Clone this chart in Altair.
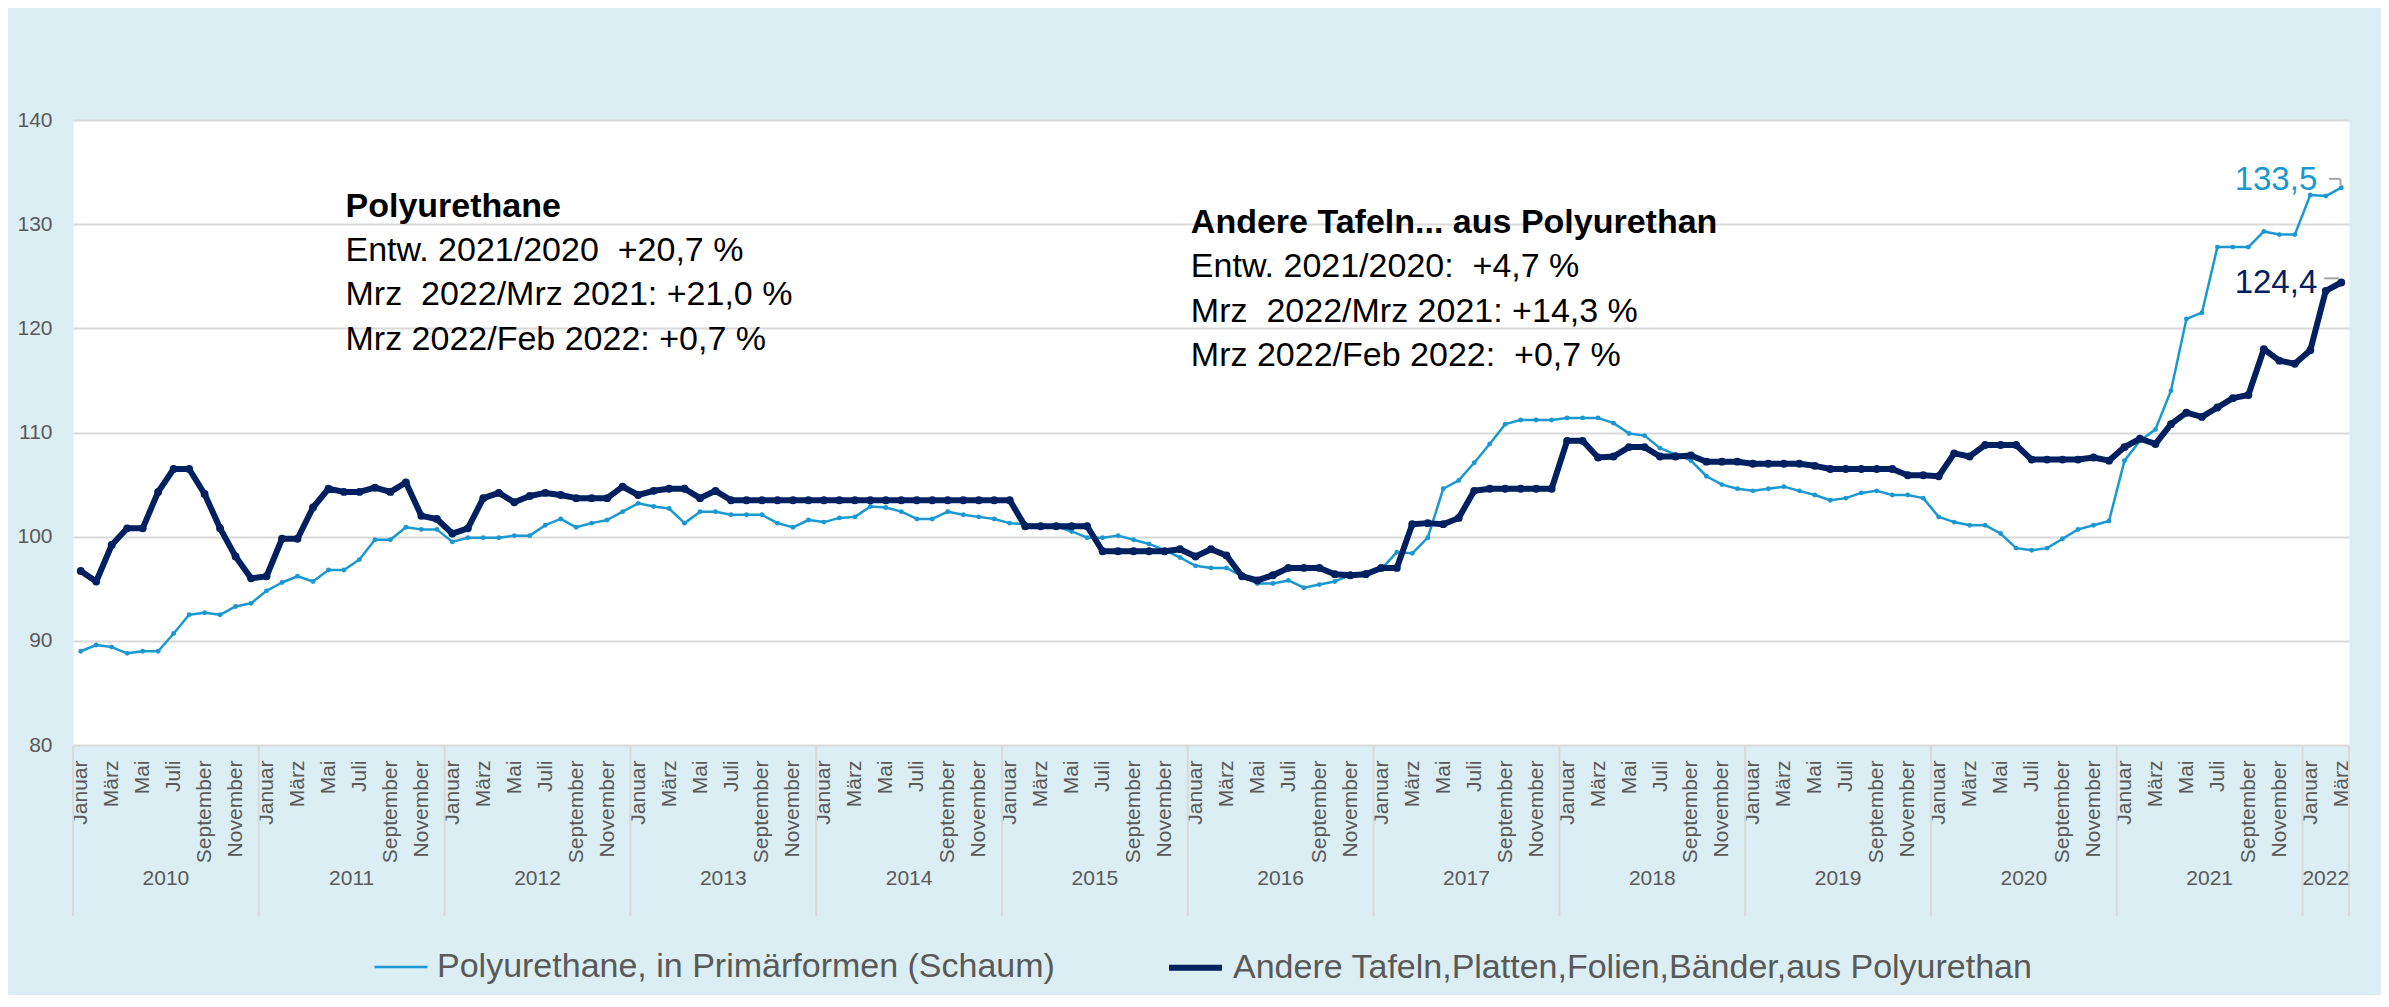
import altair as alt
import pandas as pd

# ---------------- data ----------------
month_names = ["Januar", "Februar", "März", "April", "Mai", "Juni", "Juli",
               "August", "September", "Oktober", "November", "Dezember"]
years = ["2010", "2011", "2012", "2013", "2014", "2015", "2016",
         "2017", "2018", "2019", "2020", "2021", "2022"]
series_names = ["Polyurethane, in Primärformen (Schaum)",
                "Andere Tafeln,Platten,Folien,Bänder,aus Polyurethan"]
series_colors = ["#1B98D1", "#002060"]

# Polyurethane, in Primärformen (Schaum), Jan 2010 - Mar 2022
schaum = [
    89.0, 89.6, 89.4, 88.8, 89.0, 89.0, 90.7, 92.5, 92.7, 92.5, 93.3, 93.6,
    94.8, 95.6, 96.2, 95.7, 96.8, 96.8, 97.8, 99.7, 99.7, 100.9, 100.7, 100.7,
    99.5, 99.9, 99.9, 99.9, 100.1, 100.1, 101.1, 101.7, 100.9, 101.3, 101.6, 102.4,
    103.2, 102.9, 102.7, 101.3, 102.4, 102.4, 102.1, 102.1, 102.1, 101.3, 100.9, 101.6,
    101.4, 101.8, 101.9, 102.9, 102.8, 102.4, 101.7, 101.7, 102.4, 102.1, 101.9, 101.7,
    101.3, 101.2, 101.1, 101.0, 100.5, 99.9, 99.9, 100.1, 99.7, 99.3, 98.7, 98.0,
    97.2, 97.0, 97.0, 96.2, 95.5, 95.5, 95.8, 95.1, 95.4, 95.7, 96.3, 96.6,
    96.9, 98.5, 98.4, 99.9, 104.6, 105.4, 107.1, 108.9, 110.8, 111.2, 111.2, 111.2,
    111.4, 111.4, 111.4, 110.9, 109.9, 109.7, 108.5, 107.9, 107.3, 105.8, 105.0, 104.6,
    104.4, 104.6, 104.8, 104.4, 104.0, 103.5, 103.7, 104.2, 104.4, 104.0, 104.0, 103.7,
    101.9, 101.4, 101.1, 101.1, 100.3, 98.9, 98.7, 98.9, 99.8, 100.7, 101.1, 101.5,
    107.3, 109.2, 110.3, 114.0, 120.9, 121.5, 127.8, 127.8, 127.8, 129.3, 129.0, 129.0,
    132.8, 132.7, 133.5,
]

# Andere Tafeln, Platten, Folien, Bänder, aus Polyurethan, Jan 2010 - Mar 2022
tafeln = [
    96.7, 95.7, 99.2, 100.8, 100.8, 104.3, 106.5, 106.5, 104.1, 100.8, 98.1, 96.0,
    96.2, 99.8, 99.8, 102.8, 104.6, 104.3, 104.3, 104.7, 104.3, 105.2, 102.0, 101.7,
    100.3, 100.8, 103.7, 104.2, 103.3, 103.9, 104.2, 104.0, 103.7, 103.7, 103.7, 104.8,
    104.0, 104.4, 104.6, 104.6, 103.7, 104.4, 103.5, 103.5, 103.5, 103.5, 103.5, 103.5,
    103.5, 103.5, 103.5, 103.5, 103.5, 103.5, 103.5, 103.5, 103.5, 103.5, 103.5, 103.5,
    103.5, 101.0, 101.0, 101.0, 101.0, 101.0, 98.6, 98.6, 98.6, 98.6, 98.6, 98.8,
    98.1, 98.8, 98.2, 96.2, 95.8, 96.3, 97.0, 97.0, 97.0, 96.4, 96.3, 96.4,
    97.0, 97.0, 101.2, 101.3, 101.2, 101.8, 104.4, 104.6, 104.6, 104.6, 104.6, 104.6,
    109.2, 109.2, 107.6, 107.7, 108.6, 108.6, 107.7, 107.7, 107.8, 107.2, 107.2, 107.2,
    107.0, 107.0, 107.0, 107.0, 106.8, 106.5, 106.5, 106.5, 106.5, 106.5, 105.9, 105.9,
    105.8, 108.0, 107.7, 108.8, 108.8, 108.8, 107.4, 107.4, 107.4, 107.4, 107.6, 107.3,
    108.6, 109.4, 108.9, 110.8, 111.9, 111.5, 112.4, 113.3, 113.6, 118.0, 116.9, 116.6,
    117.9, 123.6, 124.4,
]

y_ticks = [80, 90, 100, 110, 120, 130, 140]

block1_title = "Polyurethane"
block1_lines = ["Entw. 2021/2020 \u00a0+20,7 %",
                "Mrz \u00a02022/Mrz 2021: +21,0 %",
                "Mrz 2022/Feb 2022: +0,7 %"]
block2_title = "Andere Tafeln... aus Polyurethan"
block2_lines = ["Entw. 2021/2020: \u00a0+4,7 %",
                "Mrz \u00a02022/Mrz 2021: +14,3 %",
                "Mrz 2022/Feb 2022: \u00a0+0,7 %"]

# ---------------- layout constants ----------------
FONT = "Liberation Sans"
GREY = "#595959"
GRID = "#D9D9D9"
W, H = 2276, 625
LINE_W = [2.5, 6]
POINT_SIZE = [24, 62]

n = len(schaum)
rows = []
for name, vals in zip(series_names, [schaum, tafeln]):
    for i, v in enumerate(vals):
        rows.append({"idx": i, "value": v, "series": name})
df = pd.DataFrame(rows)

x_scale = alt.Scale(domain=[-0.5, n - 0.5], nice=False, zero=False)
y_scale = alt.Scale(domain=[80, 140], nice=False, zero=False)

label_expr = "[" + ",".join("'" + m + "'" for m in month_names) + "][datum.value % 12]"

x_axis = alt.Axis(values=[i for i in range(n) if i % 2 == 0], labelExpr=label_expr,
                  labelAngle=270, labelFontSize=21, labelColor=GREY, labelPadding=15,
                  ticks=False, domain=False, grid=False, title=None, labelOverlap=False,
                  labelFont=FONT)
y_axis = alt.Axis(values=y_ticks, labelFontSize=21, labelColor=GREY, labelPadding=21,
                  ticks=False, domain=False, grid=True, gridColor=GRID, gridWidth=2,
                  title=None, labelFont=FONT)


def X(field):
    return alt.X(field, scale=x_scale, axis=x_axis)


def Y(field):
    return alt.Y(field, scale=y_scale, axis=y_axis)


legend = alt.Legend(title=None, orient="none", legendX=300, legendY=818,
                    direction="horizontal", symbolType="stroke", symbolSize=2800,
                    labelFontSize=34, labelColor=GREY, labelLimit=3000, labelFont=FONT,
                    columnPadding=102, labelOffset=8, padding=0)

color_scale = alt.Scale(domain=series_names, range=series_colors)
sw_scale = alt.Scale(domain=series_names, range=LINE_W)

base = alt.Chart(df)

line_layers = []
point_layers = []
for k, name in enumerate(series_names):
    sub = base.transform_filter(alt.datum.series == name)
    line_layers.append(
        sub.mark_line(strokeJoin="round", strokeCap="round").encode(
            x=X("idx:Q"),
            y=Y("value:Q"),
            color=alt.Color("series:N", scale=color_scale, legend=legend),
            strokeWidth=alt.StrokeWidth("series:N", scale=sw_scale, legend=legend),
        )
    )
    point_layers.append(
        sub.mark_circle(opacity=1, size=POINT_SIZE[k], color=series_colors[k]).encode(
            x=X("idx:Q"),
            y=Y("value:Q"),
        )
    )

# end labels
end_layers = []
end_dy = [-8, 0]
for k, vals in enumerate([schaum, tafeln]):
    d = pd.DataFrame({"idx": [n - 1], "value": [vals[-1]],
                      "label": [f"{vals[-1]:.1f}".replace(".", ",")]})
    end_layers.append(
        alt.Chart(d).mark_text(align="right", baseline="middle", dx=-24, dy=end_dy[k],
                               fontSize=33, color=series_colors[k], font=FONT).encode(
            x=X("idx:Q"),
            y=Y("value:Q"),
            text="label:N",
        )
    )

# small leader lines next to the end labels
lead = pd.DataFrame({
    "x1": [n - 1.8, n - 1.05, n - 2.1],
    "x2": [n - 1.05, n - 1.05, n - 1.15],
    "y1": [schaum[-1] + 0.85, schaum[-1] + 0.85, tafeln[-1] + 0.4],
    "y2": [schaum[-1] + 0.85, schaum[-1] + 0.25, tafeln[-1] + 0.4],
})
lead_layer = alt.Chart(lead).mark_rule(color="#A6A6A6", strokeWidth=2).encode(
    x=X("x1:Q"), x2="x2:Q",
    y=Y("y1:Q"), y2="y2:Q",
)

# annotation text blocks (anchored in data coordinates)
ann_title = pd.DataFrame({"x": [17.1, 71.7], "y": [130.7, 129.2],
                          "t": [block1_title, block2_title]})
body_rows = []
for k, line in enumerate(block1_lines):
    body_rows.append({"x": 17.1, "y": 126.45 - 4.25 * k, "t": line})
for k, line in enumerate(block2_lines):
    body_rows.append({"x": 71.7, "y": 124.95 - 4.3 * k, "t": line})
ann_body = pd.DataFrame(body_rows)

title_layer = alt.Chart(ann_title).mark_text(align="left", baseline="alphabetic", fontSize=34,
                                             fontWeight="bold", color="#000000", font=FONT).encode(
    x=X("x:Q"),
    y=Y("y:Q"),
    text="t:N",
)
body_layer = alt.Chart(ann_body).mark_text(align="left", baseline="alphabetic", fontSize=34,
                                           color="#000000", font=FONT).encode(
    x=X("x:Q"),
    y=Y("y:Q"),
    text="t:N",
)

# year group separators and labels
seps = pd.DataFrame({"sep": [12 * k - 0.5 for k in range(len(years))] + [n - 0.5]})
sep_layer = alt.Chart(seps).mark_rule(color=GRID, strokeWidth=2).encode(
    x=X("sep:Q"),
    y=alt.value(H + 1), y2=alt.value(H + 171),
)
year_rows = []
for k, yr in enumerate(years):
    start = 12 * k
    end = min(12 * k + 12, n)
    year_rows.append({"c": (start + end - 1) / 2, "year": yr})
year_layer = alt.Chart(pd.DataFrame(year_rows)).mark_text(
    fontSize=21, color=GREY, align="center", baseline="middle", font=FONT).encode(
    x=X("c:Q"),
    y=alt.value(H + 134),
    text="year:N",
)

chart = alt.layer(
    line_layers[0], point_layers[0], line_layers[1], point_layers[1],
    sep_layer, year_layer,
    title_layer, body_layer, lead_layer, end_layers[0], end_layers[1],
).properties(
    width=W, height=H,
    autosize=alt.AutoSizeParams(type="none"),
    padding={"left": 65, "top": 112, "right": 32, "bottom": 250},
).configure(
    background="#DAEEF3", font=FONT,
).configure_view(
    fill="white", stroke="transparent",
)

chart.save("out.html", embed_options={"renderer": "svg", "actions": False})
